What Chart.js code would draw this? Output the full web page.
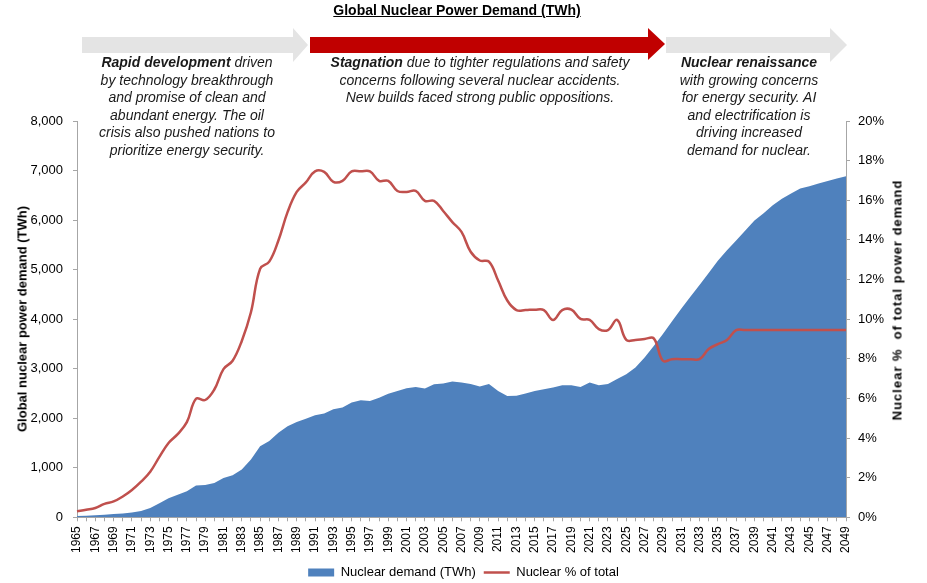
<!DOCTYPE html>
<html>
<head>
<meta charset="utf-8">
<script src="https://cdn.jsdelivr.net/npm/chart.js@4/dist/chart.umd.min.js"></script>
<style>
  body { margin: 0; background: #fff; font-family: "Liberation Sans", Arial, sans-serif; }
  #wrap { position: relative; width: 927px; height: 583px; overflow: hidden; }
  #chart { position: absolute; left: 0; top: 0; }
  .title { position: absolute; left: 0; width: 914px; top: 2px; text-align: center;
           font-weight: bold; font-size: 14px; text-decoration: underline; }
  .note { position: absolute; text-align: center; font-style: italic; font-size: 14px;
          line-height: 17.6px; color: #1a1a1a; }
  .note b { font-weight: bold; }
  .axis-title { position: absolute; font-weight: bold; font-size: 13px; white-space: nowrap;
                transform-origin: center center; transform: translate(-50%, -50%) rotate(-90deg); }
  svg { position: absolute; left: 0; top: 0; }
</style>
</head>
<body>
<div id="wrap">
  <canvas id="chart" width="927" height="583"></canvas>
  <svg width="927" height="70">
    <polygon points="82,37 293,37 293,28 308,45 293,62 293,53 82,53" fill="#e4e4e4"/>
    <polygon points="310,37 648,37 648,28 665,44 648,60 648,53 310,53" fill="#c00000"/>
    <polygon points="666,37 830,37 830,28 847,45 830,62 830,53 666,53" fill="#e4e4e4"/>
  </svg>
  <div class="title">Global Nuclear Power Demand (TWh)</div>
  <div class="note" style="left:87px; top:54px; width:200px;"><b>Rapid development</b> driven<br>by technology breakthrough<br>and promise of clean and<br>abundant energy. The oil<br>crisis also pushed nations to<br>prioritize energy security.</div>
  <div class="note" style="left:310px; top:54px; width:340px;"><b>Stagnation</b> due to tighter regulations and safety<br>concerns following several nuclear accidents.<br>New builds faced strong public oppositions.</div>
  <div class="note" style="left:669px; top:54px; width:160px;"><b>Nuclear renaissance</b><br>with growing concerns<br>for energy security. AI<br>and electrification is<br>driving increased<br>demand for nuclear.</div>
  <div class="axis-title" style="left:22px; top:319px;">Global nuclear power demand (TWh)</div>
  <div class="axis-title" style="left:897px; top:300px; letter-spacing:1px;">Nuclear %&nbsp;&nbsp;of total power demand</div>
</div>
<script>
const years = [
  "1965", "1966", "1967", "1968", "1969", "1970", "1971", "1972", "1973", "1974",
  "1975", "1976", "1977", "1978", "1979", "1980", "1981", "1982", "1983", "1984",
  "1985", "1986", "1987", "1988", "1989", "1990", "1991", "1992", "1993", "1994",
  "1995", "1996", "1997", "1998", "1999", "2000", "2001", "2002", "2003", "2004",
  "2005", "2006", "2007", "2008", "2009", "2010", "2011", "2012", "2013", "2014",
  "2015", "2016", "2017", "2018", "2019", "2020", "2021", "2022", "2023", "2024",
  "2025", "2026", "2027", "2028", "2029", "2030", "2031", "2032", "2033", "2034",
  "2035", "2036", "2037", "2038", "2039", "2040", "2041", "2042", "2043", "2044",
  "2045", "2046", "2047", "2048", "2049"
];

// TWh
const nuclearDemand = [
  25, 32, 40, 52, 65, 78, 95, 125, 190, 285,
  385, 455, 525, 640, 650, 695, 795, 850, 965, 1165,
  1435, 1540, 1705, 1840, 1925, 1990, 2060, 2095, 2180, 2215,
  2315, 2365, 2350, 2415, 2495, 2550, 2605, 2630, 2600, 2685,
  2700, 2740, 2720, 2690, 2640, 2690, 2550, 2450, 2455, 2500,
  2550, 2585, 2620, 2665, 2665, 2630, 2720, 2665, 2690, 2790,
  2890, 3025, 3225, 3460, 3700, 3960, 4210, 4450, 4690, 4930,
  5180, 5390, 5590, 5790, 5990, 6140, 6300, 6430, 6535, 6635,
  6685, 6740, 6790, 6840, 6885
];

// % of total power demand
const nuclearShare = [
  0.30, 0.38, 0.47, 0.68, 0.80, 1.05, 1.38, 1.80, 2.30, 3.05,
  3.75, 4.20, 4.80, 5.98, 5.92, 6.45, 7.48, 7.90, 8.90, 10.35,
  12.54, 12.90, 13.97, 15.40, 16.42, 16.90, 17.46, 17.43, 16.93, 16.98,
  17.46, 17.46, 17.46, 16.98, 16.98, 16.47, 16.42, 16.47, 15.97, 15.97,
  15.46, 14.90, 14.40, 13.40, 12.96, 12.90, 11.95, 10.94, 10.46, 10.46,
  10.48, 10.46, 9.96, 10.46, 10.48, 10.01, 9.96, 9.50, 9.45, 9.96,
  8.95, 8.95, 9.00, 9.03, 7.90, 7.98, 7.98, 7.98, 7.98, 8.49,
  8.74, 8.95, 9.45, 9.45, 9.45, 9.45, 9.45, 9.45, 9.45, 9.45,
  9.45, 9.45, 9.45, 9.45, 9.45
];

const blue = "#4f81bd";
const red = "#c0504d";
const axisGrey = "#a6a6a6";
const tickFont = { family: "'Liberation Sans', Arial, sans-serif", size: 13 };

const ctx = document.getElementById("chart").getContext("2d");
const chart = new Chart(ctx, {
    type: "line",
    data: {
        labels: years,
        datasets: [
            {
                label: "Nuclear demand (TWh)",
                data: nuclearDemand,
                yAxisID: "y",
                backgroundColor: blue,
                borderColor: blue,
                borderWidth: 0,
                fill: "origin",
                pointRadius: 0,
                pointStyle: "rect",
                tension: 0,
                order: 1
            },
            {
                label: "Nuclear % of total",
                data: nuclearShare,
                yAxisID: "y1",
                borderColor: red,
                backgroundColor: red,
                borderWidth: 2.5,
                fill: false,
                pointRadius: 0,
                pointStyle: "line",
                tension: 0.4,
                order: 0
            }
        ]
    },
    options: {
        responsive: false,
        animation: false,
        layout: { padding: { left: 0, right: 0, top: 121, bottom: -6 } },
        plugins: {
            legend: {
                position: "bottom",
                labels: {
                    sort: (a, b) => a.datasetIndex - b.datasetIndex,
                    usePointStyle: true,
                    pointStyleWidth: 26,
                    boxHeight: 8,
                    color: "#000",
                    padding: 8,
                    font: tickFont
                }
            },
            tooltip: { enabled: false }
        },
        scales: {
            x: {
                offset: false,
                grid: { display: true, drawOnChartArea: false, tickLength: 4, color: axisGrey },
                border: { display: true, color: axisGrey },
                ticks: {
                    autoSkip: false,
                    maxRotation: 90,
                    minRotation: 90,
                    padding: 5,
                    color: "#000",
                    font: { family: "'Liberation Sans', Arial, sans-serif", size: 12 },
                    callback: function (value, index) {
                        return index % 2 === 0 ? years[index] : "";
                    }
                }
            },
            y: {
                position: "left",
                min: 0,
                max: 8000,
                grid: { display: true, drawOnChartArea: false, tickLength: 4, color: axisGrey },
                border: { display: true, color: axisGrey },
                ticks: {
                    stepSize: 1000,
                    padding: 10,
                    color: "#000",
                    font: tickFont,
                    callback: v => v.toLocaleString("en-US")
                },
                afterFit: scale => { scale.width = 77; }
            },
            y1: {
                position: "right",
                min: 0,
                max: 20,
                grid: { display: true, drawOnChartArea: false, tickLength: 4, color: axisGrey },
                border: { display: true, color: axisGrey },
                ticks: {
                    stepSize: 2,
                    padding: 8,
                    color: "#000",
                    font: tickFont,
                    callback: v => v + "%"
                },
                afterFit: scale => { scale.width = 81; }
            }
        }
    }
});
</script>
</body>
</html>
